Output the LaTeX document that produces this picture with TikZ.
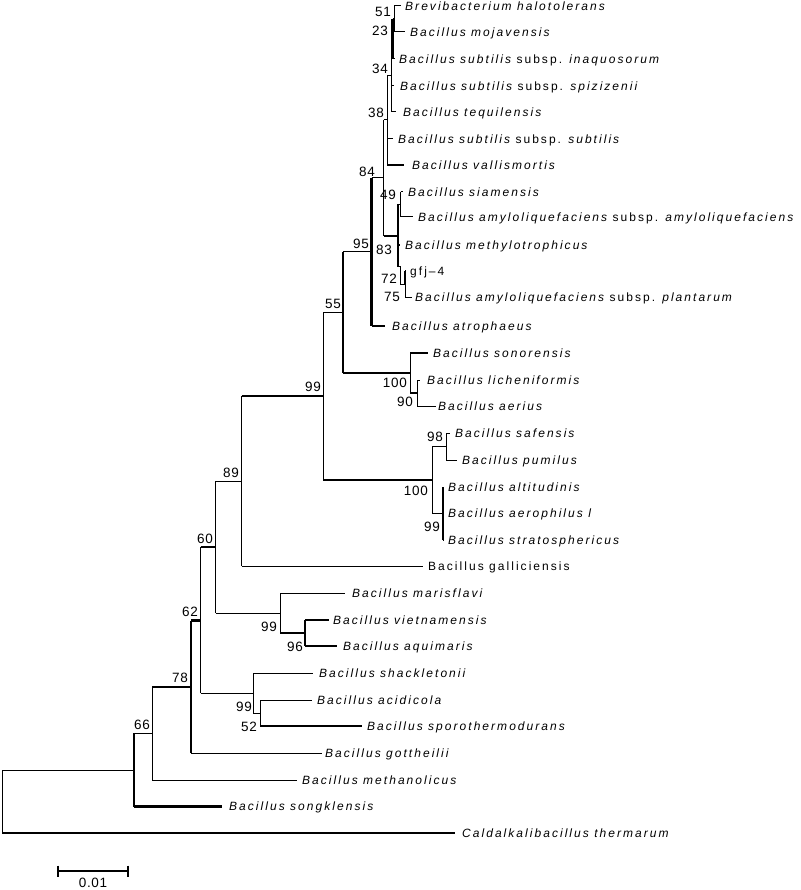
\documentclass[tikz,border=0pt]{standalone}
\usepackage{fontspec}
\setmainfont{Liberation Sans}[LetterSpace=17]
\newfontfamily\numfont{Liberation Sans}[LetterSpace=5]
\begin{document}
\begin{tikzpicture}[x=1pt,y=-1pt,
  br/.style={line width=1pt},
  brk/.style={line width=2.6pt},
  leaf/.style={anchor=base west, inner sep=0pt, font=\fontsize{12}{14}\selectfont\itshape},
  leafup/.style={leaf, font=\fontsize{12}{14}\selectfont\upshape},
  boot/.style={anchor=east, inner sep=0pt, font=\numfont\fontsize{13.5}{15}\selectfont}]
\useasboundingbox (0,0) rectangle (800,890);
% internal nodes
\coordinate (root) at (2,801.5);
\coordinate (nA) at (134,770);
\coordinate (n66) at (152,733);
\coordinate (n78) at (191,687);
\coordinate (n62) at (200.7,620.5);
\coordinate (n60) at (215.7,547);
\coordinate (n89) at (241.7,481);
\coordinate (n99a) at (323,396);
\coordinate (n55) at (343,312.5);
\coordinate (n95) at (371.5,252);
\coordinate (n84) at (383.5,178);
\coordinate (n38) at (387,120);
\coordinate (n34) at (391,75.5);
\coordinate (n23) at (392.5,39);
\coordinate (n51) at (394,19);
\coordinate (n83) at (398,236);
\coordinate (n49) at (400.7,204.5);
\coordinate (n72) at (400.7,267);
\coordinate (n75) at (405,284);
\coordinate (n100a) at (410,373);
\coordinate (n90) at (417,393);
\coordinate (n100b) at (432,480);
\coordinate (n98) at (446,446.5);
\coordinate (n99d) at (443,513.5);
\coordinate (n99b) at (280,613);
\coordinate (n96) at (305,633);
\coordinate (n99c) at (253,693);
\coordinate (n52) at (260,713);
% leaf tips
\coordinate (t1) at (401,6);
\coordinate (t2) at (405,32);
\coordinate (t3) at (395,59);
\coordinate (t4) at (394,86);
\coordinate (t5) at (396,112);
\coordinate (t6) at (393,139);
\coordinate (t7) at (404,165);
\coordinate (t8) at (403,192);
\coordinate (t9) at (413,217);
\coordinate (t10) at (400,245);
\coordinate (t11) at (406,271);
\coordinate (t12) at (412,297);
\coordinate (t13) at (385,326);
\coordinate (t14) at (428,353);
\coordinate (t15) at (420,380);
\coordinate (t16) at (436,406);
\coordinate (t17) at (450,433);
\coordinate (t18) at (457,460);
\coordinate (t19) at (444,487);
\coordinate (t20) at (444,513);
\coordinate (t21) at (444,540);
\coordinate (t22) at (423,566);
\coordinate (t23) at (345,593);
\coordinate (t24) at (329,620);
\coordinate (t25) at (337,646);
\coordinate (t26) at (313,673);
\coordinate (t27) at (312,700);
\coordinate (t28) at (362,726);
\coordinate (t29) at (322,753);
\coordinate (t30) at (297,780);
\coordinate (t31) at (222,806.5);
\coordinate (t32) at (455,833);
% leaf labels
\node[leaf] (l1) at (405,10.3) {Brevibacterium halotolerans};
\node[leaf] (l2) at (410,36.3) {Bacillus mojavensis};
\node[leaf] (l3) at (399,63.3) {Bacillus subtilis \upshape subsp. \itshape inaquosorum};
\node[leaf] (l4) at (400,90.3) {Bacillus subtilis \upshape subsp. \itshape spizizenii};
\node[leaf] (l5) at (403,116.3) {Bacillus tequilensis};
\node[leaf] (l6) at (398,143.3) {Bacillus subtilis \upshape subsp. \itshape subtilis};
\node[leaf] (l7) at (412,169.3) {Bacillus vallismortis};
\node[leaf] (l8) at (408,196.3) {Bacillus siamensis};
\node[leaf] (l9) at (418,221.3) {Bacillus amyloliquefaciens \upshape subsp. \itshape amyloliquefaciens};
\node[leaf] (l10) at (405,249.3) {Bacillus methylotrophicus};
\node[leafup] (l11) at (410,275.3) {gfj–4};
\node[leaf] (l12) at (415,301.3) {Bacillus amyloliquefaciens \upshape subsp. \itshape plantarum};
\node[leaf] (l13) at (392,330.3) {Bacillus atrophaeus};
\node[leaf] (l14) at (433,357.3) {Bacillus sonorensis};
\node[leaf] (l15) at (427,384.3) {Bacillus licheniformis};
\node[leaf] (l16) at (438,410.3) {Bacillus aerius};
\node[leaf] (l17) at (455,437.3) {Bacillus safensis};
\node[leaf] (l18) at (462,464.3) {Bacillus pumilus};
\node[leaf] (l19) at (448,491.3) {Bacillus altitudinis};
\node[leaf] (l20) at (448,517.3) {Bacillus aerophilus l};
\node[leaf] (l21) at (448,544.3) {Bacillus stratosphericus};
\node[leafup] (l22) at (428,570.3) {Bacillus galliciensis};
\node[leaf] (l23) at (352,597.3) {Bacillus marisflavi};
\node[leaf] (l24) at (333,624.3) {Bacillus vietnamensis};
\node[leaf] (l25) at (343,650.3) {Bacillus aquimaris};
\node[leaf] (l26) at (319,677.3) {Bacillus shackletonii};
\node[leaf] (l27) at (317,704.3) {Bacillus acidicola};
\node[leaf] (l28) at (367,730.3) {Bacillus sporothermodurans};
\node[leaf] (l29) at (325,757.3) {Bacillus gottheilii};
\node[leaf] (l30) at (302,784.3) {Bacillus methanolicus};
\node[leaf] (l31) at (229,810.8) {Bacillus songklensis};
\node[leaf] (l32) at (462,837.3) {Caldalkalibacillus thermarum};
% vertical lines of the nodes
\draw[br] (root |- nA) -- (root |- t32);
\draw[brk] (nA |- n66) -- (nA |- t31);
\draw[br] (n66 |- n78) -- (n66 |- t30);
\draw[brk] (n78 |- n62) -- (n78 |- t29);
\draw[br] (n62 |- n60) -- (n62 |- n99c);
\draw[br] (n60 |- n89) -- (n60 |- n99b);
\draw[br] (n89 |- n99a) -- (n89 |- t22);
\draw[br] (n99a |- n55) -- (n99a |- n100b);
\draw[brk] (n55 |- n95) -- (n55 |- n100a);
\draw[brk] (n95 |- n84) -- (n95 |- t13);
\draw[br] (n84 |- n38) -- (n84 |- n83);
\draw[br] (n38 |- n34) -- (n38 |- t7);
\draw[br] (n34 |- n23) -- (n34 |- t5);
\draw[brk] (n23 |- n51) -- (n23 |- t3);
\draw[br] (n51 |- t1) -- (n51 |- t2);
\draw[brk] (n83 |- n49) -- (n83 |- n72);
\draw[br] (n49 |- t8) -- (n49 |- t9);
\draw[brk] (n75 |- t11) -- (n75);
\draw[br] (n75) -- (n75 |- t12);
\draw[br] (n100a |- t14) -- (n100a |- n90);
\draw[br] (n90 |- t15) -- (n90 |- t16);
\draw[br] (n100b |- n98) -- (n100b |- n99d);
\draw[br] (n98 |- t17) -- (n98 |- t18);
\draw[brk] (n99d |- t19) -- (n99d |- t21);
\draw[br] (n99b |- t23) -- (n99b |- n96);
\draw[brk] (n96 |- t24) -- (n96 |- t25);
\draw[br] (n99c |- t26) -- (n99c |- n52);
\draw[br] (n52 |- t27) -- (n52 |- t28);
% horizontal branches, thin
\draw[br] (root |- nA) -- (nA);
\draw[br] (nA |- n66) -- (n66);
\draw[br] (n66 |- t30) -- (t30);
\draw[br] (n78 |- t29) -- (t29);
\draw[br] (n62 |- n99c) -- (n99c);
\draw[br] (n60 |- n89) -- (n89);
\draw[br] (n60 |- n99b) -- (n99b);
\draw[br] (n89 |- t22) -- (t22);
\draw[br] (n99a |- n55) -- (n55);
\draw[br] (n55 |- n95) -- (n95);
\draw[br] (n95 |- n84) -- (n84);
\draw[br] (n84 |- n38) -- (n38);
\draw[br] (n38 |- n34) -- (n34);
\draw[br] (n38 |- t6) -- (t6);
\draw[br] (n34 |- n23) -- (n23);
\draw[br] (n34 |- t4) -- (t4);
\draw[br] (n34 |- t5) -- (t5);
\draw[br] (n23 |- n51) -- (n51);
\draw[br] (n23 |- t3) -- (t3);
\draw[br] (n51 |- t1) -- (t1);
\draw[br] (n51 |- t2) -- (t2);
\draw[br] (n83 |- n49) -- (n49);
\draw[br] (n83 |- n72) -- (n72);
\draw[br] (n72) |- (n75);
\draw[br] (n49 |- t8) -- (t8);
\draw[br] (n49 |- t9) -- (t9);
\draw[br] (n75 |- t11) -- (t11);
\draw[br] (n75 |- t12) -- (t12);
\draw[br] (n90 |- t15) -- (t15);
\draw[br] (n90 |- t16) -- (t16);
\draw[br] (n100b |- n98) -- (n98);
\draw[br] (n100b |- n99d) -- (n99d);
\draw[br] (n98 |- t17) -- (t17);
\draw[br] (n98 |- t18) -- (t18);
\draw[br] (n99d |- t19) -- (t19);
\draw[br] (n99d |- t20) -- (t20);
\draw[br] (n99d |- t21) -- (t21);
\draw[br] (n99b |- t23) -- (t23);
\draw[br] (n99c |- t26) -- (t26);
\draw[br] (n99c |- n52) -- (n52);
\draw[br] (n52 |- t27) -- (t27);
% horizontal branches, thick
\draw[brk] (root |- t32) -- (t32);
\draw[brk] (nA |- t31) -- (t31);
\draw[brk] (n66 |- n78) -- (n78);
\draw[brk] (n78 |- n62) -- (n62);
\draw[brk] (n62 |- n60) -- (n60);
\draw[brk] (n89 |- n99a) -- (n99a);
\draw[brk] (n99a |- n100b) -- (n100b);
\draw[brk] (n55 |- n100a) -- (n100a);
\draw[brk] (n95 |- t13) -- (t13);
\draw[brk] (n84 |- n83) -- (n83);
\draw[brk] (n83 |- t10) -- (t10);
\draw[brk] (n38 |- t7) -- (t7);
\draw[brk] (n100a |- t14) -- (t14);
\draw[brk] (n100a |- n90) -- (n90);
\draw[brk] (n99b |- n96) -- (n96);
\draw[brk] (n96 |- t24) -- (t24);
\draw[brk] (n96 |- t25) -- (t25);
\draw[brk] (n52 |- t28) -- (t28);
% bootstrap values
\node[boot] (b51) at (391,12) {51};
\node[boot] (b23) at (388,31) {23};
\node[boot] (b34) at (388,69) {34};
\node[boot] (b38) at (384,113) {38};
\node[boot] (b84) at (375,172) {84};
\node[boot] (b49) at (396,195) {49};
\node[boot] (b83) at (392,250) {83};
\node[boot] (b72) at (397,279) {72};
\node[boot] (b75) at (400,297) {75};
\node[boot] (b95) at (369,244) {95};
\node[boot] (b55) at (341,304) {55};
\node[boot] (b99a) at (321,387) {99};
\node[boot] (b89) at (239,473) {89};
\node[boot] (b60) at (213,539) {60};
\node[boot] (b62) at (198,612) {62};
\node[boot] (b78) at (188,678) {78};
\node[boot] (b66) at (150,725) {66};
\node[boot] (b100a) at (407,383) {100};
\node[boot] (b90) at (413,402) {90};
\node[boot] (b98) at (443,437) {98};
\node[boot] (b100b) at (428,491) {100};
\node[boot] (b99d) at (440,527) {99};
\node[boot] (b99b) at (277,627) {99};
\node[boot] (b96) at (303,647) {96};
\node[boot] (b99c) at (252,707) {99};
\node[boot] (b52) at (257,727) {52};
% scale bar
\coordinate (sbL) at (58,871);
\coordinate (sbR) at (127.7,871);
\draw[line width=2.4pt] (sbL) -- (sbR);
\draw[line width=2pt] (sbL) ++(0,-5.5) -- ++(0,11);
\draw[line width=2pt] (sbR) ++(0,-5.5) -- ++(0,11);
\node[boot, anchor=center] (sbt) at (93,883) {0.01};
\end{tikzpicture}
\end{document}
